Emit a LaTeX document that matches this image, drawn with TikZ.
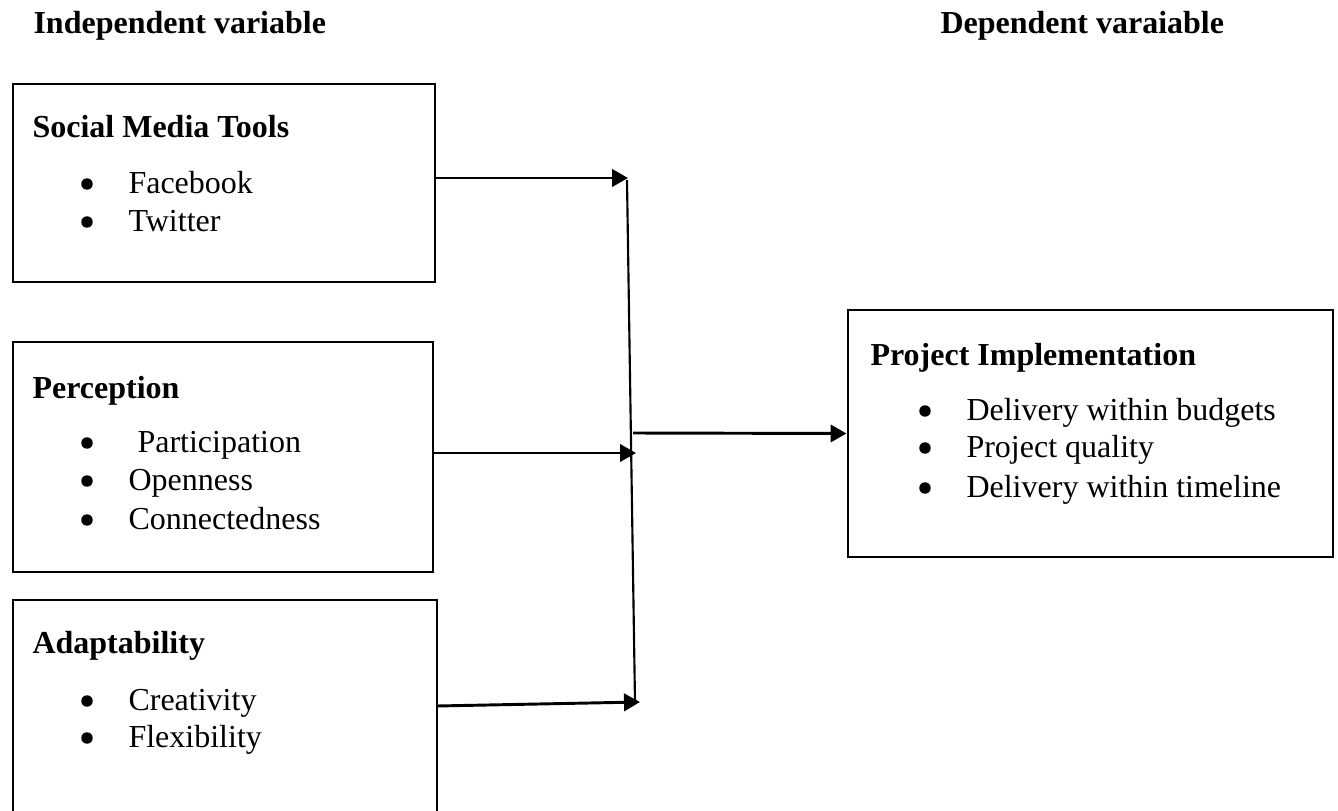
\documentclass[tikz,border=0pt]{standalone}
\usepackage{fontspec}
\setmainfont{Liberation Serif}
\usetikzlibrary{arrows.meta}
\usetikzlibrary{fit}

\newcommand{\twelve}{\fontsize{12pt}{14pt}\selectfont}

\begin{document}
\begin{tikzpicture}[x=0.375pt, y=-0.375pt,
    box/.style = {draw, line width=1.1pt, inner sep=0pt},
    head/.style = {anchor=base west, inner sep=0pt, font=\twelve\bfseries},
    item/.style = {anchor=base west, inner sep=0pt, font=\twelve},
    dot/.style = {circle, fill, inner sep=0pt, minimum size=4.3pt},
    arr/.style = {line width=1.1pt, -{Triangle[length=6pt,width=6.5pt]}}]

    \useasboundingbox (0,0) rectangle (1338,811);
    \clip (0,0) rectangle (1338,811);

    % column titles
    \node[head] (indep) at (33,33) {Independent variable};
    \node[head] (dep) at (940,33) {Dependent varaiable};

    % boxes
    \node[box, fit={(13,84) (435,282)}] (smt) {};
    \node[box, fit={(13,342) (433,572)}] (perc) {};
    \node[box, fit={(13,600) (437,900)}] (adapt) {};
    \node[box, fit={(848,310) (1333,557)}] (impl) {};

    % social media tools
    \node[head] (smttitle) at (32,137) {Social Media Tools};
    \node[dot] (b11) at (87,184) {};
    \node[item] (fb) at (128,193) {Facebook};
    \node[dot] (b12) at (87,222) {};
    \node[item] (tw) at (128,231) {Twitter};

    % perception
    \node[head] (perctitle) at (32,398) {Perception};
    \node[dot] (b21) at (87,443) {};
    \node[item] (part) at (137,452) {Participation};
    \node[dot] (b22) at (87,481) {};
    \node[item] (open) at (128,490) {Openness};
    \node[dot] (b23) at (87,520) {};
    \node[item] (conn) at (128,529) {Connectedness};

    % adaptability
    \node[head] (adapttitle) at (32,653) {Adaptability};
    \node[dot] (b31) at (87,701) {};
    \node[item] (crea) at (128,710) {Creativity};
    \node[dot] (b32) at (87,738) {};
    \node[item] (flex) at (128,747) {Flexibility};

    % project implementation
    \node[head] (impltitle) at (870,365) {Project Implementation};
    \node[dot] (b41) at (925,411) {};
    \node[item] (budg) at (966,420) {Delivery within budgets};
    \node[dot] (b42) at (925,448) {};
    \node[item] (qual) at (966,457) {Project quality};
    \node[dot] (b43) at (925,488) {};
    \node[item] (time) at (966,497) {Delivery within timeline};

    % joining line and arrows
    \coordinate (jtop) at (627,180);
    \coordinate (jbot) at (635,702);
    \coordinate (in1) at (628,178);
    \coordinate (in2) at (636,453);
    \coordinate (a3) at (437,706);
    \coordinate (in3) at (640,702);
    \coordinate (out) at (633,433);

    \draw[line width=0.8pt] (jtop) -- (jbot);
    \draw[arr] (smt.east |- in1) -- (in1);
    \draw[arr] (perc.east |- in2) -- (in2);
    \draw[arr] (a3) -- (in3);
    \draw[arr] (out) -- (impl.west);

\end{tikzpicture}
\end{document}
